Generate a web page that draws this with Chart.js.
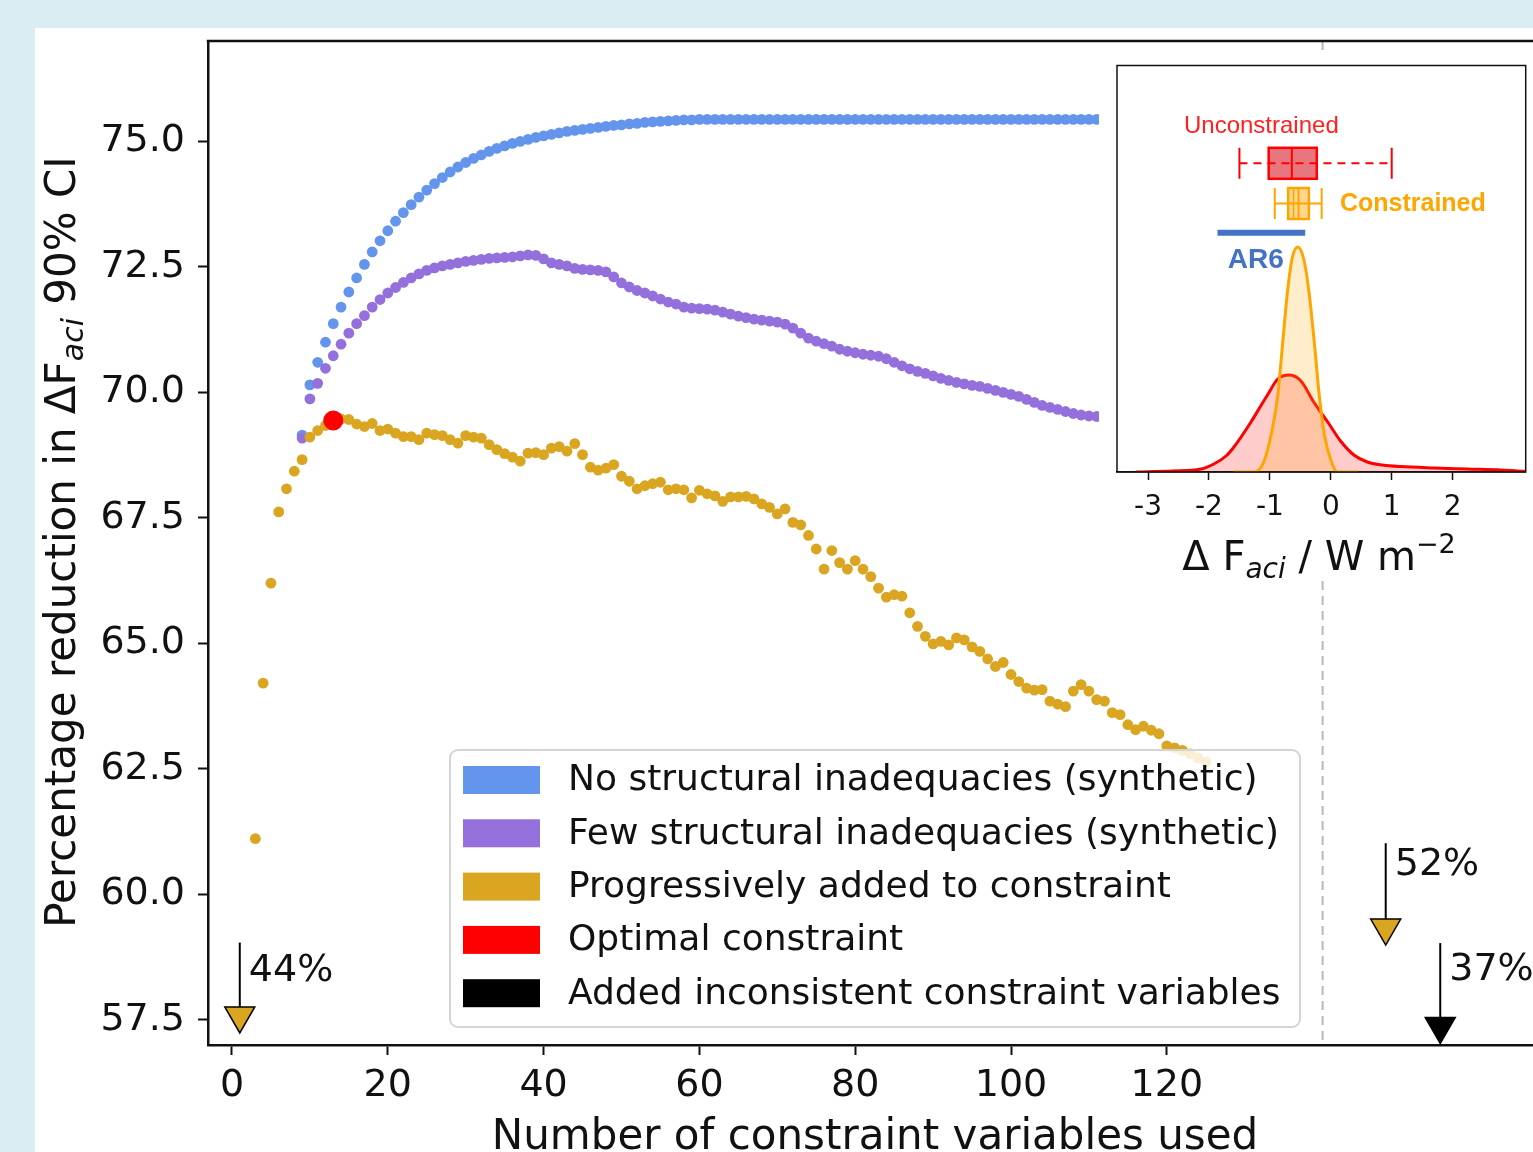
<!DOCTYPE html>
<html>
<head>
<meta charset="utf-8">
<script src="https://cdn.jsdelivr.net/npm/chart.js@4.4.1/dist/chart.umd.min.js"></script>
<style>
html,body{margin:0;padding:0;width:1533px;height:1152px;overflow:hidden;background:#daedf3;}
#panel{position:absolute;left:35px;top:28px;width:1498px;height:1124px;background:#fff;overflow:hidden;}
#main{position:absolute;left:0;top:0;}
#inset{position:absolute;left:1064px;top:28px;}
</style>
</head>
<body>
<div id="panel">
 <canvas id="main" width="1600" height="1124"></canvas>
 <canvas id="inset" width="434" height="524"></canvas>
</div>
<script>
// ===== main panel data =====
var xTicks=[0,20,40,60,80,100,120];
var yTicks=[57.5,60,62.5,65,67.5,70,72.5,75];
var seriesNames=['No structural inadequacies (synthetic)','Few structural inadequacies (synthetic)','Progressively added to constraint','Optimal constraint','Added inconsistent constraint variables'];
var seriesColors=['#6495ED','#9370DB','#DAA520','#FF0000','#000000'];

// first x of each series, then one value per variable count
var blueStart=9;
var blueVals=[69.15,70.15,70.60,71.00,71.37,71.70,72.00,72.28,72.55,72.80,
 73.02,73.22,73.41,73.58,73.74,73.89,74.03,74.16,74.28,74.39,
 74.49,74.58,74.66,74.73,74.80,74.86,74.91,74.96,75.00,75.04,
 75.08,75.11,75.14,75.17,75.20,75.22,75.24,75.26,75.28,75.30,
 75.32,75.33,75.35,75.36,75.38,75.39,75.40,75.41,75.42,75.43,
 75.43,75.44,75.44,75.44,75.44,75.44,75.44,75.44,75.44,75.44,
 75.44,75.44,75.44,75.44,75.44,75.44,75.44,75.44,75.44,75.44,
 75.44,75.44,75.44,75.44,75.44,75.44,75.44,75.44,75.44,75.44,
 75.44,75.44,75.44,75.44,75.44,75.44,75.44,75.44,75.44,75.44,
 75.44,75.44,75.44,75.44,75.44,75.44,75.44,75.44,75.44,75.44,
 75.44,75.44,75.44];
var purpleStart=9;
var purpleVals=[69.09,69.87,70.18,70.48,70.73,70.96,71.18,71.37,71.53,71.70,
 71.85,71.98,72.09,72.19,72.28,72.36,72.43,72.48,72.52,72.55,
 72.58,72.61,72.63,72.65,72.67,72.68,72.69,72.70,72.72,72.74,
 72.73,72.66,72.58,72.55,72.52,72.47,72.45,72.44,72.43,72.40,
 72.30,72.18,72.10,72.03,71.98,71.92,71.86,71.80,71.76,71.70,
 71.68,71.67,71.66,71.64,71.60,71.56,71.52,71.49,71.46,71.44,
 71.42,71.40,71.36,71.28,71.18,71.08,71.02,70.97,70.92,70.86,
 70.82,70.79,70.76,70.74,70.72,70.67,70.60,70.53,70.47,70.42,
 70.38,70.33,70.28,70.24,70.20,70.17,70.14,70.12,70.08,70.04,
 70.00,69.96,69.92,69.86,69.80,69.74,69.70,69.66,69.62,69.58,
 69.55,69.53,69.52];
var goldStart=3;
var goldVals=[61.11,64.21,66.20,67.62,68.08,68.43,68.66,69.11,69.24,69.34,
 69.44,69.47,69.46,69.37,69.32,69.38,69.24,69.27,69.19,69.12,
 69.12,69.06,69.19,69.16,69.14,69.06,68.99,69.14,69.11,69.09,
 68.96,68.86,68.78,68.71,68.63,68.79,68.80,68.76,68.89,68.92,
 68.83,68.98,68.76,68.51,68.45,68.49,68.56,68.33,68.23,68.08,
 68.14,68.18,68.21,68.06,68.08,68.06,67.90,68.05,67.98,67.94,
 67.83,67.92,67.92,67.93,67.88,67.78,67.71,67.58,67.68,67.41,
 67.36,67.15,66.88,66.48,66.85,66.61,66.48,66.65,66.48,66.33,
 66.10,65.92,65.97,65.94,65.61,65.34,65.14,64.99,65.04,64.97,
 65.11,65.07,64.93,64.84,64.69,64.54,64.62,64.38,64.24,64.11,
 64.07,64.08,63.85,63.79,63.74,64.05,64.18,64.05,63.88,63.85,
 63.62,63.58,63.38,63.28,63.35,63.27,63.20,62.96,62.92,62.87,
 62.80,62.72,62.64];
var optimalX=[13], optimalY=[69.44];
var cutoffX=140;

// arrows with reduction labels
var arrowX=[1,148.1,155.1];
var arrowTop=[59.04,61.02,59.03];
var arrowMarkY=[57.5,59.25,57.29];
var arrowText=['44%','52%','37%'];
var arrowTextY=[58.47,60.59,58.5];
var arrowFill=['#DAA520','#DAA520','#000000'];

// ===== inset data =====
var insetTicks=[-3,-2,-1,0,1,2];
var kdeRedX=[-3.2,-2.6,-2.13,-1.92,-1.72,-1.59,-1.31,-1.18,-1.04,-0.87,-0.68,-0.49,-0.28,-0.05,0.16,0.38,0.60,0.85,1.15,1.69,2.24,2.79,3.2];
var kdeRedY=[0.0,0.01,0.03,0.08,0.16,0.25,0.50,0.63,0.77,0.93,0.97,0.91,0.70,0.50,0.31,0.17,0.10,0.07,0.054,0.04,0.03,0.02,0.006];
var kdeOrX=[-1.6,-1.26,-1.10,-0.96,-0.87,-0.79,-0.71,-0.63,-0.54,-0.44,-0.36,-0.27,-0.19,-0.11,0.0,0.11,0.45];
var kdeOrY=[0,0,0.10,0.43,0.77,1.29,1.81,2.15,2.25,2.12,1.81,1.29,0.77,0.39,0.12,0,0];
var boxNames=['Unconstrained','Constrained'];
var boxY=[3.087,2.685];
var boxLo=[-1.50,-0.92], boxQ1=[-1.02,-0.70], boxMed=[-0.64,-0.53], boxQ3=[-0.23,-0.36], boxHi=[1.00,-0.15];
var boxMean=[null,-0.61];
var ar6Lo=-1.86, ar6Hi=-0.42, ar6Y=2.393;

Chart.defaults.font.family="'DejaVu Sans', sans-serif";
Chart.defaults.color='#111';

function pts(start,vals){return vals.map(function(v,i){return {x:start+i,y:v};});}
function pairs(xs,ys){return xs.map(function(x,i){return {x:x,y:ys[i]};});}
function richText(ctx,parts,x,y,align){
 var w=0;
 parts.forEach(function(p){ctx.font=p[1];w+=ctx.measureText(p[0]).width;});
 var cx=align==='center'?x-w/2:x;
 parts.forEach(function(p){ctx.font=p[1];ctx.fillText(p[0],cx,y+p[2]);cx+=ctx.measureText(p[0]).width;});
}
function noPad(s){s.paddingTop=0;s.paddingBottom=0;s.paddingLeft=0;s.paddingRight=0;}

var mainDeco={id:'mainDeco',
 beforeDatasetsDraw:function(c){
  var ctx=c.ctx,a=c.chartArea,x=c.scales.x.getPixelForValue(cutoffX);
  ctx.save();ctx.strokeStyle='#b8b8b8';ctx.lineWidth=2;ctx.setLineDash([9,6]);
  ctx.beginPath();ctx.moveTo(x,a.top);ctx.lineTo(x,a.bottom);ctx.stroke();ctx.restore();
 },
 afterDatasetsDraw:function(c){
  var ctx=c.ctx,a=c.chartArea,sx=c.scales.x,sy=c.scales.y;
  ctx.save();
  // arrows
  for(var i=0;i<arrowX.length;i++){
   var px=sx.getPixelForValue(arrowX[i]), cy=sy.getPixelForValue(arrowMarkY[i]);
   ctx.strokeStyle='#000';ctx.lineWidth=2;ctx.setLineDash([]);
   ctx.beginPath();ctx.moveTo(px,sy.getPixelForValue(arrowTop[i]));ctx.lineTo(px,cy-13);ctx.stroke();
   ctx.beginPath();ctx.moveTo(px-15,cy-13);ctx.lineTo(px+15,cy-13);ctx.lineTo(px,cy+13);ctx.closePath();
   ctx.fillStyle=arrowFill[i];ctx.fill();ctx.lineWidth=1.5;ctx.stroke();
   ctx.fillStyle='#111';ctx.font='38px "DejaVu Sans"';ctx.textBaseline='middle';ctx.textAlign='left';
   ctx.fillText(arrowText[i],px+9,sy.getPixelForValue(arrowTextY[i]));
  }
  // legend
  var lx=415,ly=722,lw=850,lh=277,r=8;
  ctx.beginPath();ctx.roundRect(lx,ly,lw,lh,r);
  ctx.fillStyle='rgba(255,255,255,0.82)';ctx.fill();
  ctx.strokeStyle='#d4d4d4';ctx.lineWidth=2;ctx.stroke();
  var ds=c.data.datasets;
  ctx.font='36px "DejaVu Sans"';ctx.textBaseline='middle';ctx.textAlign='left';
  for(var k=0;k<ds.length;k++){
   var ry=ly+30+k*53.3;
   ctx.fillStyle=ds[k].backgroundColor;ctx.fillRect(lx+13,ry-14,77,28);
   ctx.fillStyle='#111';ctx.fillText(ds[k].label,lx+118,ry+1);
  }
  ctx.restore();
 },
 afterDraw:function(c){
  var ctx=c.ctx,a=c.chartArea;
  ctx.save();
  ctx.strokeStyle='#111';ctx.lineWidth=2.5;
  ctx.beginPath();ctx.moveTo(a.left-1.25,a.top);ctx.lineTo(a.right,a.top);ctx.stroke();
  ctx.fillStyle='#111';ctx.textBaseline='alphabetic';ctx.textAlign='left';
  richText(ctx,[['Number of constraint variables used','42px "DejaVu Sans"',0]],840,1121,'center');
  ctx.translate(40,514);ctx.rotate(-Math.PI/2);
  richText(ctx,[['Percentage reduction in \u0394F','42px "DejaVu Sans"',0],['aci','italic 30px "DejaVu Sans"',8],[' 90% CI','42px "DejaVu Sans"',0]],0,0,'center');
  ctx.restore();
 }
};

new Chart(document.getElementById('main'),{
 type:'scatter',
 data:{datasets:[
  {label:seriesNames[0],data:pts(blueStart,blueVals),backgroundColor:seriesColors[0],pointRadius:5.4,pointBorderWidth:0,order:4},
  {label:seriesNames[1],data:pts(purpleStart,purpleVals),backgroundColor:seriesColors[1],pointRadius:5.4,pointBorderWidth:0,order:3},
  {label:seriesNames[2],data:pts(goldStart,goldVals),backgroundColor:seriesColors[2],pointRadius:5.4,pointBorderWidth:0,order:2},
  {label:seriesNames[3],data:pairs(optimalX,optimalY),backgroundColor:seriesColors[3],pointRadius:10,pointBorderWidth:0,order:0},
  {label:seriesNames[4],data:[],backgroundColor:seriesColors[4],pointRadius:5.4,order:1}
 ]},
 options:{responsive:false,animation:false,events:[],
  layout:{autoPadding:false,padding:{top:13,left:0,right:0,bottom:0}},
  plugins:{legend:{display:false},tooltip:{enabled:false}},
  scales:{
   x:{type:'linear',min:-3.08,max:180.1,
    afterBuildTicks:function(s){s.ticks=xTicks.map(function(v){return {value:v};});},
    afterFit:function(s){s.height=107;noPad(s);},
    grid:{drawOnChartArea:false,tickLength:10,tickColor:'#111',tickWidth:2},
    border:{display:true,color:'#111',width:2.5},
    ticks:{font:{size:38},color:'#111',padding:8,maxRotation:0,callback:function(v){return String(v);}}},
   y:{type:'linear',min:57,max:77,
    afterBuildTicks:function(s){s.ticks=yTicks.map(function(v){return {value:v};});},
    afterFit:function(s){s.width=173;noPad(s);},
    grid:{drawOnChartArea:false,tickLength:10,tickColor:'#111',tickWidth:2},
    border:{display:true,color:'#111',width:2.5},
    ticks:{font:{size:38},color:'#111',padding:13,callback:function(v){return v.toFixed(1);}}}
  }
 },
 plugins:[mainDeco]
});

// ===== inset =====
var insetDeco={id:'insetDeco',
 beforeDraw:function(c){var ctx=c.ctx;ctx.save();ctx.fillStyle='#fff';ctx.fillRect(0,0,c.width,c.height);ctx.restore();},
 afterDatasetsDraw:function(c){
  var ctx=c.ctx,a=c.chartArea,sx=c.scales.x,sy=c.scales.y;
  ctx.save();
  var cols=['#ff0000','#ffa500'], fills=['#e8767e','#ffd78f'], dash=[[8,6],[]];
  for(var i=0;i<boxY.length;i++){
   var cy=sy.getPixelForValue(boxY[i]), h=15.5;
   var lo=sx.getPixelForValue(boxLo[i]),q1=sx.getPixelForValue(boxQ1[i]),q3=sx.getPixelForValue(boxQ3[i]),hi=sx.getPixelForValue(boxHi[i]);
   ctx.fillStyle=fills[i];ctx.fillRect(q1,cy-h,q3-q1,2*h);
   ctx.strokeStyle=cols[i];ctx.lineWidth=2.5;ctx.setLineDash([]);ctx.strokeRect(q1,cy-h,q3-q1,2*h);
   ctx.lineWidth=2;ctx.setLineDash(dash[i]);
   ctx.beginPath();ctx.moveTo(lo,cy);ctx.lineTo(hi,cy);ctx.stroke();
   ctx.setLineDash([]);
   ctx.beginPath();ctx.moveTo(lo,cy-h);ctx.lineTo(lo,cy+h);ctx.moveTo(hi,cy-h);ctx.lineTo(hi,cy+h);ctx.stroke();
   var md=sx.getPixelForValue(boxMed[i]);
   ctx.beginPath();ctx.moveTo(md,cy-h);ctx.lineTo(md,cy+h);ctx.stroke();
   if(boxMean[i]!==null){var mn=sx.getPixelForValue(boxMean[i]);ctx.lineWidth=1.5;ctx.beginPath();ctx.moveTo(mn,cy-h);ctx.lineTo(mn,cy+h);ctx.stroke();}
  }
  // AR6 range
  ctx.strokeStyle='#4472C4';ctx.lineWidth=6;
  ctx.beginPath();ctx.moveTo(sx.getPixelForValue(ar6Lo),sy.getPixelForValue(ar6Y));ctx.lineTo(sx.getPixelForValue(ar6Hi),sy.getPixelForValue(ar6Y));ctx.stroke();
  // labels
  ctx.textBaseline='middle';
  ctx.textAlign='center';ctx.fillStyle='#ff2020';ctx.font='24px "Liberation Sans"';
  ctx.fillText(boxNames[0],sx.getPixelForValue(-1.14),sy.getPixelForValue(3.46));
  ctx.textAlign='left';ctx.fillStyle='#ffa500';ctx.font='bold 25px "Liberation Sans"';
  ctx.fillText(boxNames[1],sx.getPixelForValue(0.15),sy.getPixelForValue(2.675));
  ctx.textAlign='center';ctx.fillStyle='#4472C4';ctx.font='bold 28px "Liberation Sans"';
  ctx.fillText('AR6',sx.getPixelForValue(-1.23),sy.getPixelForValue(2.12));
  // frame
  ctx.strokeStyle='#111';ctx.lineWidth=1.5;ctx.strokeRect(a.left,a.top,a.right-a.left,a.bottom-a.top);
  ctx.restore();
 },
 afterDraw:function(c){
  var ctx=c.ctx;ctx.save();ctx.fillStyle='#111';ctx.textBaseline='alphabetic';
  richText(ctx,[['\u0394 F','40px "DejaVu Sans"',0],['aci','italic 28px "DejaVu Sans"',8],[' / W m','40px "DejaVu Sans"',0],['\u22122','27px "DejaVu Sans"',-17]],220,514,'center');
  ctx.restore();
 }
};

new Chart(document.getElementById('inset'),{
 type:'line',
 data:{datasets:[
  {label:'Unconstrained',data:pairs(kdeRedX,kdeRedY),borderColor:'#ff0000',backgroundColor:'rgba(255,0,0,0.2)',fill:'origin',borderWidth:3,pointRadius:0,cubicInterpolationMode:'monotone',order:1},
  {label:'Constrained',data:pairs(kdeOrX,kdeOrY),borderColor:'#ffa500',backgroundColor:'rgba(255,165,0,0.2)',fill:'origin',borderWidth:3,pointRadius:0,cubicInterpolationMode:'monotone',order:0}
 ]},
 options:{responsive:false,animation:false,events:[],
  layout:{autoPadding:false,padding:{top:9.5,left:18,right:7.3,bottom:0}},
  plugins:{legend:{display:false},tooltip:{enabled:false}},
  scales:{
   x:{type:'linear',min:-3.51,max:3.20,
    afterBuildTicks:function(s){s.ticks=insetTicks.map(function(v){return {value:v};});},
    afterFit:function(s){s.height=108;noPad(s);},
    grid:{drawOnChartArea:false,tickLength:8,tickColor:'#111',tickWidth:1.5},
    border:{display:true,color:'#111',width:1.5},
    ticks:{font:{size:28},color:'#111',padding:11,maxRotation:0,callback:function(v){return String(v);}}},
   y:{type:'linear',min:0,max:4.065,display:false}
  }
 },
 plugins:[insetDeco]
});
</script>
</body>
</html>
